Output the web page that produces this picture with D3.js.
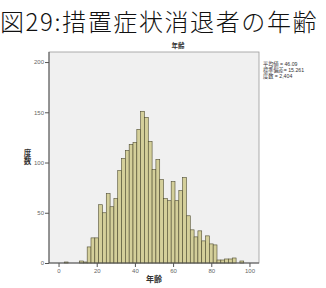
<!DOCTYPE html>
<html>
<head>
<meta charset="utf-8">
<script src="https://cdn.jsdelivr.net/npm/d3@7"></script>
<style>
  body { margin: 0; background: #fff; }
  svg { display: block; font-family: "Noto Sans CJK JP", "Noto Sans", sans-serif; }
</style>
</head>
<body>
<div id="chart"></div>
<script>
// 年齢ヒストグラム (2歳刻み、中央値)
const ages = [4, 12, 14, 16, 18, 20, 22, 24, 26, 28, 30, 32, 34, 36, 38, 40, 42, 44, 46, 48,
  50, 52, 54, 56, 58, 60, 62, 64, 66, 68, 70, 72, 74, 76, 78, 80, 82, 84, 86, 88, 90, 92, 96];
const counts = [1, 2, 1, 16, 25, 25, 58, 50, 69, 56, 64, 92, 104, 112, 118, 120, 133, 151, 145, 121,
  93, 103, 83, 64, 62, 81, 62, 72, 85, 47, 33, 26, 32, 22, 27, 19, 18, 3, 3, 4, 4, 5, 2];
const xTicks = [0, 20, 40, 60, 80, 100];
const yTicks = [0, 50, 100, 150, 200];
const statLines = ['平均値 = 46.09', '標準偏差= 15.261', '度数 = 2,404'];
const binWidth = 2;

const width = 326;
const height = 288;
const plot = { left: 49, right: 259, top: 52, bottom: 263 };

const svg = d3.select('#chart')
  .append('svg')
  .attr('width', width)
  .attr('height', height)
  .attr('viewBox', [0, 0, width, height]);

const x = d3.scaleLinear().domain([-5, 105]).range([plot.left, plot.right]);
const y = d3.scaleLinear().domain([0, 210]).range([plot.bottom, plot.top]);

// タイトル
svg.append('text')
  .attr('x', 0)
  .attr('y', 31)
  .style('font-size', '24px')
  .style('font-weight', 300)
  .style('letter-spacing', '1.6px')
  .attr('fill', '#111')
  .text('図29:措置症状消退者の年齢');

svg.append('text')
  .attr('x', 178)
  .attr('y', 48)
  .attr('text-anchor', 'middle')
  .style('font-size', '6.5px')
  .style('font-weight', 'bold')
  .attr('fill', '#333')
  .text('年齢');

// plot background
svg.append('rect')
  .attr('x', plot.left)
  .attr('y', plot.top)
  .attr('width', plot.right - plot.left)
  .attr('height', plot.bottom - plot.top)
  .attr('fill', '#f0f0f0')
  .attr('stroke', '#999')
  .attr('stroke-width', 0.8);

svg.selectAll('rect.bar')
  .data(ages)
  .enter()
  .append('rect')
  .attr('class', 'bar')
  .attr('x', d => x(d - binWidth / 2))
  .attr('width', d => x(d + binWidth / 2) - x(d - binWidth / 2))
  .attr('y', (d, i) => y(counts[i]))
  .attr('height', (d, i) => y(0) - y(counts[i]))
  .attr('fill', '#d4cf9a')
  .attr('stroke', '#4f4c30')
  .attr('stroke-width', 0.6);

const xAxis = svg.append('g')
  .attr('transform', `translate(0,${plot.bottom})`)
  .call(d3.axisBottom(x).tickValues(xTicks).tickSize(4).tickPadding(2));
const yAxis = svg.append('g')
  .attr('transform', `translate(${plot.left},0)`)
  .call(d3.axisLeft(y).tickValues(yTicks).tickSize(4).tickPadding(1));

[xAxis, yAxis].forEach(g => {
  g.select('.domain').attr('stroke', '#555').attr('stroke-width', 1);
  g.selectAll('.tick line').attr('stroke', '#555');
  g.selectAll('.tick text')
    .attr('fill', '#666')
    .style('font-size', '6px')
    .style('font-family', 'Arial, "Liberation Sans", sans-serif');
});
xAxis.select('.domain').attr('d', `M${plot.left},0H${plot.right}`);
yAxis.select('.domain').attr('d', `M0,${plot.top}V${plot.bottom}`);

// 軸ラベル
svg.append('text')
  .attr('x', (plot.left + plot.right) / 2)
  .attr('y', 282)
  .attr('text-anchor', 'middle')
  .style('font-size', '8px')
  .style('font-weight', 'bold')
  .attr('fill', '#333')
  .text('年齢');

// 縦書き
svg.append('text')
  .attr('x', 27.5)
  .attr('y', 149)
  .style('writing-mode', 'vertical-rl')
  .style('text-orientation', 'upright')
  .style('font-size', '7.5px')
  .style('font-weight', 'bold')
  .style('letter-spacing', '1px')
  .attr('fill', '#333')
  .text('度数');

svg.selectAll('text.stat')
  .data(statLines)
  .enter()
  .append('text')
  .attr('class', 'stat')
  .attr('x', 263)
  .attr('y', (d, i) => 66 + i * 6.2)
  .style('font-size', '5.2px')
  .style('font-family', '"Liberation Sans", "Noto Sans CJK JP", sans-serif')
  .attr('fill', '#333')
  .text(d => d);
</script>
</body>
</html>
